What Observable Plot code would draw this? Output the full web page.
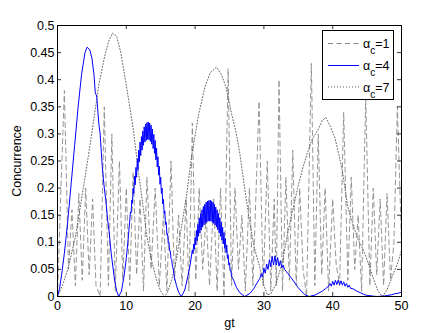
<!DOCTYPE html>
<html>
<head>
<meta charset="utf-8">
<script src="https://cdn.jsdelivr.net/npm/d3@7"></script>
<script src="https://cdn.jsdelivr.net/npm/@observablehq/plot@0.6"></script>
<style>
  html, body { margin: 0; padding: 0; background: white; }
  #wrap { position: relative; width: 443px; height: 333px; }
  #wrap > svg text { font-family: 'Liberation Sans', Arial, Helvetica, sans-serif; font-size: 12.5px; }
  #legend { position: absolute; left: 322px; top: 30px; width: 72px; height: 70px; box-sizing: border-box;
            border: 1px solid black; background: white; }
  #legend svg { display: block; }
</style>
</head>
<body>
<div id="wrap"></div>
<script>
// ---- data ----
const xTicks = [0, 10, 20, 30, 40, 50];
const yTicks = [0, 0.05, 0.1, 0.15, 0.2, 0.25, 0.3, 0.35, 0.4, 0.45, 0.5];
const seriesNames = ["α_c=1", "α_c=4", "α_c=7"];

// α_c = 1 : fast dashed oscillation [gt, concurrence]
const alpha1 = [
  [0,0],[0.5,0.2],[1.0,0.38],[1.6,0.05],[2.1,0.16],[2.6,0.02],[3.1,0.19],[3.6,0.03],[4.1,0.2],[4.6,0.04],
  [5.1,0.18],[5.6,0.02],[6.2,0],[6.8,0.35],[7.4,0.02],[7.9,0.3],[8.4,0.01],[9.0,0.25],[9.5,0.03],[10.0,0.2],
  [10.5,0.02],[11.0,0.23],[11.5,0.04],[12.0,0.18],[12.5,0.01],[13.0,0.22],[13.6,0.05],[14.2,0.2],[14.8,0.02],
  [15.4,0.15],[15.9,0.01],[16.5,0.25],[17.0,0.03],[17.6,0.15],[18.1,0.02],[18.7,0.18],[19.1,0.01],[19.6,0.32],
  [20.1,0.03],[20.6,0.2],[21.1,0.05],[21.6,0.15],[22.1,0.02],[22.7,0.18],[23.2,0.01],[23.7,0.2],[24.2,0],
  [24.8,0.42],[25.3,0.02],[25.8,0.2],[26.3,0.05],[26.8,0.15],[27.3,0.01],[27.9,0.2],[28.4,0.02],[29.3,0.36],
  [29.9,0.02],[30.5,0.25],[31.0,0.01],[31.5,0.18],[31.8,0.02],[32.2,0.4],[32.7,0.01],[33.2,0.22],[33.7,0.03],
  [34.2,0.27],[34.7,0.02],[35.2,0.2],[35.7,0.05],[36.2,0],[36.9,0.43],[37.4,0.02],[37.9,0.3],[38.4,0.04],
  [38.9,0.2],[39.4,0.01],[40.0,0.18],[40.5,0.06],[41.0,0.02],[41.6,0.34],[42.2,0.03],[42.7,0.22],[43.2,0.05],
  [43.7,0.15],[44.2,0.01],[44.8,0.37],[45.4,0.02],[45.9,0.2],[46.4,0.04],[46.9,0.18],[47.4,0.02],[47.9,0.19],
  [48.4,0.03],[48.9,0.1],[49.4,0.35],[50,0.1]
];

// α_c = 4 : solid blue with small fast wiggles
const alpha4 = [
  [0,0],[0.3,0.015],[0.6,0.04],[1,0.08],[1.5,0.14],[2,0.21],[2.5,0.28],[3,0.35],[3.5,0.41],[4,0.45],[4.3,0.46],
  [4.7,0.455],[5.0,0.44],[5.3,0.41],[5.5,0.375],[5.7,0.37],[6.0,0.32],[6.2,0.3],[6.5,0.24],[6.8,0.2],[7.0,0.18],
  [7.3,0.14],[7.5,0.12],[7.8,0.08],[8.0,0.06],[8.3,0.03],[8.6,0.01],[8.9,0],
  [9.3,0.01],[9.7,0.04],[10,0.07],[10.3,0.11],
  [10.6,0.156],[10.7,0.154],[10.8,0.178],[10.9,0.172],[11.0,0.2],[11.1,0.19],[11.2,0.222],[11.3,0.206],
  [11.4,0.238],[11.5,0.22],[11.6,0.254],[11.7,0.234],[11.8,0.27],[11.9,0.248],[12.0,0.285],[12.1,0.26],
  [12.2,0.295],[12.3,0.27],[12.4,0.305],[12.5,0.279],[12.6,0.313],[12.7,0.285],[12.8,0.318],[12.9,0.288],
  [13.0,0.321],[13.1,0.29],[13.2,0.322],[13.3,0.289],[13.4,0.32],[13.5,0.286],[13.6,0.316],[13.7,0.281],
  [13.8,0.309],[13.9,0.273],[14.0,0.299],[14.1,0.264],[14.2,0.288],[14.3,0.252],[14.4,0.274],[14.5,0.239],
  [14.6,0.258],[14.7,0.224],[14.8,0.24],[14.9,0.207],[15.0,0.22],[15.1,0.19],[15.2,0.2],[15.3,0.171],
  [15.4,0.179],[15.5,0.152],[15.6,0.158],[15.7,0.133],[15.8,0.137],[15.9,0.114],[16.0,0.116],[16.1,0.098],
  [16.2,0.1],[16.3,0.084],[16.4,0.084],[16.5,0.07],[16.6,0.068],[16.7,0.056],[16.8,0.052],
  [17.0,0.035],[17.3,0.02],[17.6,0.008],[18,0],
  [18.5,0.012],[19.0,0.04],[19.3,0.06],
  [19.6,0.086],[19.7,0.079],[19.8,0.097],[19.9,0.087],[20.0,0.109],[20.1,0.095],[20.2,0.122],[20.3,0.103],
  [20.4,0.133],[20.5,0.111],[20.6,0.145],[20.7,0.117],[20.8,0.153],[20.9,0.123],[21.0,0.16],[21.1,0.128],
  [21.2,0.166],[21.3,0.132],[21.4,0.17],[21.5,0.135],[21.6,0.174],[21.7,0.137],[21.8,0.176],[21.9,0.139],
  [22.0,0.177],[22.1,0.139],[22.2,0.178],[22.3,0.139],[22.4,0.176],[22.5,0.137],[22.6,0.174],[22.7,0.135],
  [22.8,0.17],[22.9,0.132],[23.0,0.165],[23.1,0.128],[23.2,0.16],[23.3,0.123],[23.4,0.153],[23.5,0.117],
  [23.6,0.145],[23.7,0.111],[23.8,0.137],[23.9,0.104],[24.0,0.128],[24.1,0.097],[24.2,0.118],[24.3,0.089],
  [24.4,0.107],[24.5,0.081],[24.6,0.095],[24.7,0.07],[24.8,0.077],[24.9,0.058],[25.0,0.062],[25.1,0.047],
  [25.2,0.048],[25.3,0.037],[25.4,0.035],[25.6,0.03],[26.0,0.017],
  [26.5,0.007],[27.2,0],
  [28.0,0.006],[28.5,0.014],[29.0,0.025],[29.4,0.033],
  [29.6,0.042],[29.8,0.036],[30.0,0.052],[30.2,0.043],[30.4,0.06],[30.6,0.05],[30.8,0.068],[31.0,0.055],
  [31.2,0.074],[31.4,0.058],[31.6,0.075],[31.8,0.058],[32.0,0.072],[32.2,0.056],[32.4,0.066],[32.6,0.053],
  [32.8,0.058],[33.0,0.05],[33.5,0.042],[34.0,0.034],[34.5,0.025],[35.0,0.016],[35.5,0.009],[36.0,0.003],
  [36.6,0],
  [37.5,0.003],[38.5,0.01],[39.0,0.015],[39.4,0.019],
  [39.6,0.024],[39.8,0.019],[40.0,0.028],[40.2,0.021],[40.4,0.03],[40.6,0.022],[40.8,0.03],[41.0,0.022],
  [41.2,0.029],[41.4,0.021],[41.6,0.027],[41.8,0.019],[42.0,0.024],[42.2,0.017],[42.4,0.021],[42.6,0.015],
  [43.0,0.014],[43.5,0.01],[44.0,0.007],[44.5,0.004],[45.0,0.002],[46.0,0.0005],[46.5,0],[47.0,0.0005],
  [47.5,0.001],[48.0,0.002],[48.5,0.003],[49.0,0.005],[49.5,0.006],[50.0,0.008]
];

// α_c = 7 : slow dotted oscillation
const alpha7 = [
  [0,0],[0.7,0.02],[1.5,0.05],[2.6,0.11],[3.5,0.18],[4.5,0.26],[5.2,0.32],[6,0.39],[6.8,0.44],[7.4,0.47],
  [8,0.486],[8.6,0.48],[9.2,0.45],[10,0.39],[11,0.31],[11.8,0.227],[12.5,0.16],[13,0.11],[13.7,0.065],
  [14.4,0.03],[15,0.01],[15.5,0],[16,0.008],[16.6,0.03],[17.3,0.07],[18,0.127],[18.8,0.19],[19.5,0.26],
  [20.5,0.335],[21.4,0.385],[22.2,0.413],[23.1,0.423],[23.8,0.41],[24.5,0.386],[25,0.356],[25.3,0.337],
  [26,0.3],[26.5,0.264],[27.2,0.2],[27.9,0.14],[28.6,0.09],[29.4,0.054],[30,0.02],[30.5,0.003],[31,0.005],
  [31.8,0.024],[32.7,0.065],[33.5,0.12],[34.2,0.16],[34.9,0.2],[35.6,0.235],[36.3,0.264],[37,0.29],
  [37.8,0.306],[38.5,0.325],[39,0.33],[39.6,0.315],[40.3,0.294],[40.9,0.262],[41.4,0.232],[42.2,0.165],
  [43,0.13],[43.7,0.105],[44.5,0.085],[45.2,0.06],[46,0.03],[46.6,0.01],[47.2,0],[47.8,0.01],[48.3,0.025],
  [48.8,0.042],[49.4,0.06],[50,0.085]
];

// ---- chart ----
const W = 443, H = 333, mT = 25, mR = 42, mB = 37, mL = 57;
const innerW = W - mL - mR, innerH = H - mT - mB;
const tickLen = 4;
const FONT = "'Liberation Sans', Arial, Helvetica, sans-serif";

const chart = Plot.plot({
  width: W, height: H,
  marginTop: mT, marginRight: mR, marginBottom: mB, marginLeft: mL,
  x: {domain: [0, 50]},
  y: {domain: [0, 0.5]},
  style: {fontFamily: FONT, fontSize: "12.5px", background: "white", color: "black"},
  marks: [
    Plot.line(alpha1, {x: d => d[0], y: d => d[1], stroke: "#8a8a8a", strokeWidth: 0.9, strokeDasharray: "5,3.5"}),
    Plot.line(alpha7, {x: d => d[0], y: d => d[1], stroke: "#555555", strokeWidth: 0.9, strokeDasharray: "1,2"}),
    Plot.line(alpha4, {x: d => d[0], y: d => d[1], stroke: "#0000ff", strokeWidth: 1}),
    Plot.tickX(xTicks, {x: d => d, insetTop: innerH - tickLen, stroke: "black", strokeWidth: 0.8}),
    Plot.tickX(xTicks, {x: d => d, insetBottom: innerH - tickLen, stroke: "black", strokeWidth: 0.8}),
    Plot.tickY(yTicks, {y: d => d, insetRight: innerW - tickLen, stroke: "black", strokeWidth: 0.8}),
    Plot.tickY(yTicks, {y: d => d, insetLeft: innerW - tickLen, stroke: "black", strokeWidth: 0.8}),
    Plot.frame({stroke: "black", strokeWidth: 1}),
    Plot.axisX(xTicks, {tickSize: 0, tickPadding: 5, fontSize: 12.5, tickFormat: d => String(d), label: "gt", labelAnchor: "center", labelOffset: 30, labelArrow: "none"}),
    Plot.axisY(yTicks, {tickSize: 0, tickPadding: 3, fontSize: 12.5, tickFormat: d => String(d), label: "Concurrence", labelAnchor: "center", labelOffset: 45, labelArrow: "none"})
  ]
});

const wrap = document.getElementById("wrap");
wrap.appendChild(chart);

// ---- legend (inside the axes, top right) ----
const legend = document.createElement("div");
legend.id = "legend";
wrap.appendChild(legend);
const styles = [
  {stroke: "#8a8a8a", dash: "5,3.5"},
  {stroke: "#0000ff", dash: null},
  {stroke: "#555555", dash: "1,2"}
];
const rowsY = [12.5, 34.5, 56];
const lsvg = d3.select(legend).append("svg").attr("width", 70).attr("height", 68)
  .style("font-family", FONT);
seriesNames.forEach((name, i) => {
  const [base, rest] = name.split("_");
  const sub = rest[0], tail = rest.slice(1);
  const ln = lsvg.append("line").attr("x1", 5).attr("x2", 36).attr("y1", rowsY[i]).attr("y2", rowsY[i])
    .attr("stroke", styles[i].stroke).attr("stroke-width", 1);
  if (styles[i].dash) ln.attr("stroke-dasharray", styles[i].dash);
  const t = lsvg.append("text").attr("x", 40).attr("y", rowsY[i] + 4.5).attr("font-size", 12.5);
  t.append("tspan").text(base);
  t.append("tspan").attr("dy", 6).attr("font-size", 10).text(sub);
  t.append("tspan").attr("dy", -6).text(tail);
});
</script>
</body>
</html>
